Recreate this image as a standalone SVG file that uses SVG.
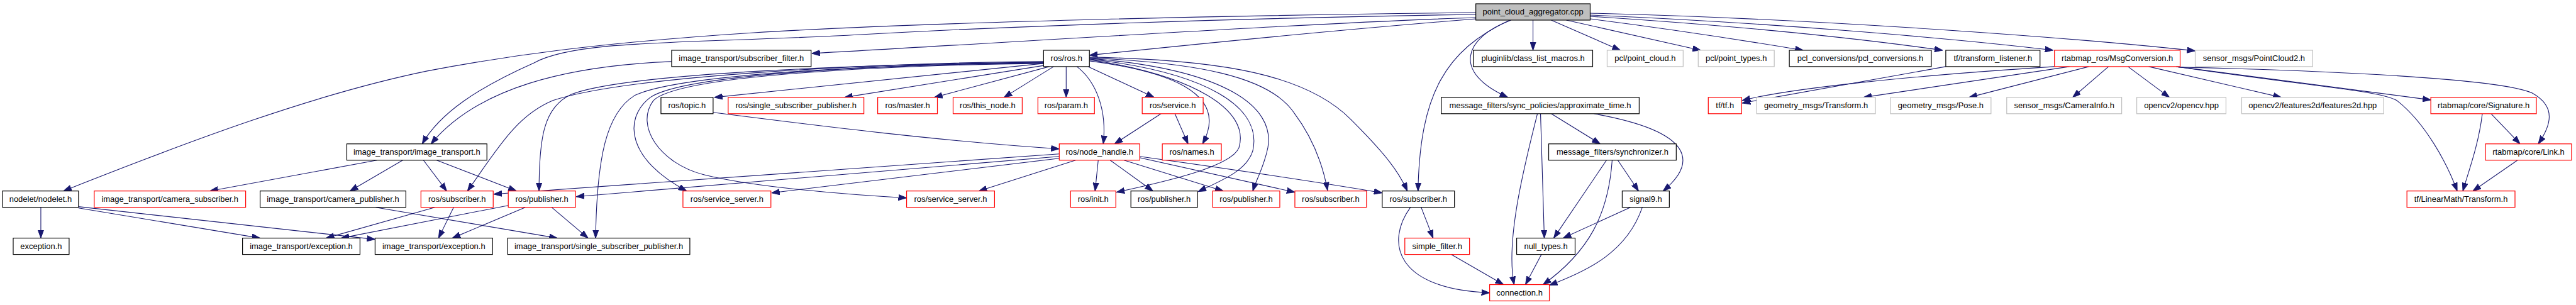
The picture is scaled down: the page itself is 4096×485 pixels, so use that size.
<svg xmlns="http://www.w3.org/2000/svg" width="4096" height="485" viewBox="0 0 4096 485">
<defs>
<marker id="ah" markerUnits="userSpaceOnUse" markerWidth="13" markerHeight="10" viewBox="0 0 13 10" refX="13" refY="5" orient="auto">
<path d="M0,0.4 L13,5 L0,9.6 z" fill="#191970" stroke="#191970" stroke-width="1"/>
</marker>
<style>
.e path{fill:none;stroke:#191970;stroke-width:1.1;marker-end:url(#ah)}
.n rect{fill:#fff;stroke:#000;stroke-width:1.2}
.n.r rect{stroke:#ff0000}
.n.g rect{stroke:#bfbfbf}
.n.root rect{fill:#bfbfbf}
.n text{font-family:"Liberation Sans",Arial,sans-serif;font-size:13px;fill:#000;text-anchor:middle}
</style>
</defs>
<rect width="4096" height="485" fill="#fff"/>
<g transform="scale(0.999)">
<g id="edges" class="e">
<path d="M2349,20 C2000,24 1500,34 1200,52 C950,68 800,90 680,113 C500,150 300,225 101,304"/>
<path d="M2349,23 C2000,28 1600,42 1370,55 C1100,70 920,62 850,100 C760,140 700,180 672,229"/>
<path d="M2349,28 C2100,36 1700,62 1292,85"/>
<path d="M2349,30 C2200,42 2000,60 1734,88"/>
<path d="M2440,32 L2440,80"/>
<path d="M2469,32 L2579,80"/>
<path d="M2493,32 L2707,80"/>
<path d="M2531,30 C2650,45 2780,65 2870,80"/>
<path d="M2531,26 C2750,40 2950,60 3092,80"/>
<path d="M2531,24 C2800,35 3100,60 3268,80"/>
<path d="M2531,21 C2900,30 3300,60 3494,81"/>
<path d="M2405,32 C2330,60 2310,115 2400,155"/>
<path d="M2403,32 C2300,80 2260,150 2257,304"/>
<path d="M1069,98 C900,105 760,140 686,229"/>
<path d="M1661,101 L1137,155"/>
<path d="M1663,104 L1344,155"/>
<path d="M1670,106 L1487,155"/>
<path d="M1677,106 L1598,155"/>
<path d="M1697,106 L1697,155"/>
<path d="M1714,106 C1745,130 1762,175 1756,229"/>
<path d="M1732,106 L1837,155"/>
<path d="M1734,97 C1850,112 1960,145 1914,229"/>
<path d="M1734,95 C1900,120 1990,175 1972,235 C1960,265 1860,288 1777,306"/>
<path d="M1734,94 C1920,115 2010,170 1994,240 C1985,270 1950,285 1907,305"/>
<path d="M1734,93 C1950,110 2030,170 2018,235 C2012,265 2000,285 1994,304"/>
<path d="M1734,92 C1900,100 2020,120 2060,180 C2090,220 2105,260 2113,303"/>
<path d="M1734,91 C1950,95 2080,120 2150,190 C2200,240 2225,270 2240,304"/>
<path d="M1661,98 C1400,100 1000,120 880,160 C820,185 790,240 744,304"/>
<path d="M1661,99 C1400,102 1000,115 910,150 C865,170 858,220 858,304"/>
<path d="M1661,100 C1400,102 1080,118 1010,152 C965,180 950,250 948,379"/>
<path d="M1661,100 C1400,103 1090,118 1035,155 C990,190 1000,255 1093,304"/>
<path d="M1661,101 C1400,104 1080,120 1040,160 C1010,200 1050,260 1120,278 C1200,298 1350,310 1443,315"/>
<path d="M1686,245 L786,309"/>
<path d="M1686,249 L917,313"/>
<path d="M1686,252 L1228,307"/>
<path d="M1712,255 L1558,304"/>
<path d="M1748,255 L1743,304"/>
<path d="M1767,255 L1835,304"/>
<path d="M1789,255 L1947,304"/>
<path d="M1814,251 L2061,306"/>
<path d="M1814,249 C1950,268 2100,290 2200,307"/>
<path d="M1135,179 C1300,200 1500,225 1686,237"/>
<path d="M1848,181 L1774,229"/>
<path d="M1870,181 L1891,229"/>
<path d="M600,255 L334,304"/>
<path d="M641,255 L557,304"/>
<path d="M674,255 L711,304"/>
<path d="M695,255 L822,304"/>
<path d="M65,330 L65,379"/>
<path d="M125,331 L414,379"/>
<path d="M125,329 L597,381"/>
<path d="M598,330 L887,379"/>
<path d="M692,330 L519,379"/>
<path d="M722,330 L698,379"/>
<path d="M809,327 L543,379"/>
<path d="M836,330 L720,379"/>
<path d="M878,330 L936,379"/>
<path d="M2262,330 L2281,379"/>
<path d="M2245,330 C2205,385 2220,460 2371,466"/>
<path d="M2308,404 L2393,453"/>
<path d="M2454,404 L2428,453"/>
<path d="M2469,181 L2547,229"/>
<path d="M2452,181 L2458,379"/>
<path d="M2447,181 C2430,250 2395,380 2410,453"/>
<path d="M2537,181 C2700,210 2700,260 2647,304"/>
<path d="M2557,255 L2473,379"/>
<path d="M2566,255 C2560,340 2530,400 2456,453"/>
<path d="M2575,255 L2608,304"/>
<path d="M2595,330 L2488,379"/>
<path d="M2614,330 C2590,400 2530,430 2466,454"/>
<path d="M3097,106 L2773,164"/>
<path d="M3270,106 C3050,120 2850,140 2773,160"/>
<path d="M3294,106 L2966,155"/>
<path d="M3325,106 L3134,155"/>
<path d="M3356,106 L3299,155"/>
<path d="M3387,106 L3453,155"/>
<path d="M3420,106 L3631,155"/>
<path d="M3464,106 L3869,159"/>
<path d="M3464,106 C3700,140 3790,145 3815,160 C3860,195 3895,260 3911,304"/>
<path d="M3467,107 C3700,112 3980,125 4030,148 C4070,170 4060,200 4040,229"/>
<path d="M3951,181 C3945,230 3930,270 3920,304"/>
<path d="M3965,181 L4011,229"/>
<path d="M4007,255 L3936,304"/>
</g>
<g id="pca" class="n root"><rect x="2349" y="6" width="182" height="26"/><text x="2440" y="23.5">point_cloud_aggregator.cpp</text></g>
<g id="sf" class="n"><rect x="1069" y="80" width="222" height="26"/><text x="1180" y="97.5">image_transport/subscriber_filter.h</text></g>
<g id="ros" class="n"><rect x="1661" y="80" width="73" height="26"/><text x="1697.5" y="97.5">ros/ros.h</text></g>
<g id="plg" class="n"><rect x="2345" y="80" width="190" height="26"/><text x="2440" y="97.5">pluginlib/class_list_macros.h</text></g>
<g id="pcd" class="n g"><rect x="2558" y="80" width="121" height="26"/><text x="2618.5" y="97.5">pcl/point_cloud.h</text></g>
<g id="pty" class="n g"><rect x="2703" y="80" width="121" height="26"/><text x="2763.5" y="97.5">pcl/point_types.h</text></g>
<g id="pclc" class="n"><rect x="2848" y="80" width="226" height="26"/><text x="2961" y="97.5">pcl_conversions/pcl_conversions.h</text></g>
<g id="tfl" class="n"><rect x="3097" y="80" width="150" height="26"/><text x="3172" y="97.5">tf/transform_listener.h</text></g>
<g id="msg" class="n r"><rect x="3270" y="80" width="200" height="26"/><text x="3370" y="97.5">rtabmap_ros/MsgConversion.h</text></g>
<g id="pc2" class="n g"><rect x="3494" y="80" width="187" height="26"/><text x="3587.5" y="97.5">sensor_msgs/PointCloud2.h</text></g>
<g id="topic" class="n"><rect x="1052" y="155" width="83" height="26"/><text x="1093.5" y="172.5">ros/topic.h</text></g>
<g id="ssp" class="n r"><rect x="1159" y="155" width="216" height="26"/><text x="1267" y="172.5">ros/single_subscriber_publisher.h</text></g>
<g id="master" class="n r"><rect x="1397" y="155" width="95" height="26"/><text x="1444.5" y="172.5">ros/master.h</text></g>
<g id="thisnode" class="n r"><rect x="1517" y="155" width="110" height="26"/><text x="1572" y="172.5">ros/this_node.h</text></g>
<g id="param" class="n r"><rect x="1652" y="155" width="90" height="26"/><text x="1697" y="172.5">ros/param.h</text></g>
<g id="service" class="n r"><rect x="1818" y="155" width="97" height="26"/><text x="1866.5" y="172.5">ros/service.h</text></g>
<g id="approx" class="n"><rect x="2294" y="155" width="315" height="26"/><text x="2451.5" y="172.5">message_filters/sync_policies/approximate_time.h</text></g>
<g id="tf" class="n r"><rect x="2719" y="155" width="53" height="26"/><text x="2745.5" y="172.5">tf/tf.h</text></g>
<g id="gtr" class="n g"><rect x="2796" y="155" width="189" height="26"/><text x="2890.5" y="172.5">geometry_msgs/Transform.h</text></g>
<g id="gpose" class="n g"><rect x="3009" y="155" width="160" height="26"/><text x="3089" y="172.5">geometry_msgs/Pose.h</text></g>
<g id="caminfo" class="n g"><rect x="3194" y="155" width="183" height="26"/><text x="3285.5" y="172.5">sensor_msgs/CameraInfo.h</text></g>
<g id="ocv" class="n g"><rect x="3401" y="155" width="142" height="26"/><text x="3472" y="172.5">opencv2/opencv.hpp</text></g>
<g id="f2d" class="n g"><rect x="3568" y="155" width="226" height="26"/><text x="3681" y="172.5">opencv2/features2d/features2d.hpp</text></g>
<g id="sig" class="n r"><rect x="3869" y="155" width="168" height="26"/><text x="3953" y="172.5">rtabmap/core/Signature.h</text></g>
<g id="itr" class="n"><rect x="552" y="229" width="223" height="26"/><text x="663.5" y="246.5">image_transport/image_transport.h</text></g>
<g id="nh" class="n r"><rect x="1686" y="229" width="128" height="26"/><text x="1750" y="246.5">ros/node_handle.h</text></g>
<g id="names" class="n r"><rect x="1850" y="229" width="94" height="26"/><text x="1897" y="246.5">ros/names.h</text></g>
<g id="sync" class="n"><rect x="2465" y="229" width="203" height="26"/><text x="2566.5" y="246.5">message_filters/synchronizer.h</text></g>
<g id="link" class="n r"><rect x="3956" y="229" width="137" height="26"/><text x="4024.5" y="246.5">rtabmap/core/Link.h</text></g>
<g id="nodelet" class="n"><rect x="4" y="304" width="121" height="26"/><text x="64.5" y="321.5">nodelet/nodelet.h</text></g>
<g id="camsub" class="n r"><rect x="150" y="304" width="241" height="26"/><text x="270.5" y="321.5">image_transport/camera_subscriber.h</text></g>
<g id="campub" class="n"><rect x="414" y="304" width="232" height="26"/><text x="530" y="321.5">image_transport/camera_publisher.h</text></g>
<g id="sub1" class="n r"><rect x="670" y="304" width="115" height="26"/><text x="727.5" y="321.5">ros/subscriber.h</text></g>
<g id="pub1" class="n r"><rect x="809" y="304" width="107" height="26"/><text x="862.5" y="321.5">ros/publisher.h</text></g>
<g id="ss1" class="n r"><rect x="1087" y="304" width="140" height="26"/><text x="1157" y="321.5">ros/service_server.h</text></g>
<g id="ss2" class="n r"><rect x="1443" y="304" width="140" height="26"/><text x="1513" y="321.5">ros/service_server.h</text></g>
<g id="init" class="n r"><rect x="1704" y="304" width="72" height="26"/><text x="1740" y="321.5">ros/init.h</text></g>
<g id="pubb" class="n"><rect x="1800" y="304" width="106" height="26"/><text x="1853" y="321.5">ros/publisher.h</text></g>
<g id="pub2" class="n r"><rect x="1930" y="304" width="107" height="26"/><text x="1983.5" y="321.5">ros/publisher.h</text></g>
<g id="sub2" class="n r"><rect x="2061" y="304" width="114" height="26"/><text x="2118" y="321.5">ros/subscriber.h</text></g>
<g id="subb" class="n"><rect x="2200" y="304" width="115" height="26"/><text x="2257.5" y="321.5">ros/subscriber.h</text></g>
<g id="sig9" class="n"><rect x="2582" y="304" width="75" height="26"/><text x="2619.5" y="321.5">signal9.h</text></g>
<g id="lmt" class="n r"><rect x="3831" y="304" width="172" height="26"/><text x="3917" y="321.5">tf/LinearMath/Transform.h</text></g>
<g id="exc" class="n"><rect x="21" y="379" width="89" height="26"/><text x="65.5" y="396.5">exception.h</text></g>
<g id="itexc1" class="n"><rect x="386" y="379" width="187" height="26"/><text x="479.5" y="396.5">image_transport/exception.h</text></g>
<g id="itexc2" class="n"><rect x="597" y="379" width="187" height="26"/><text x="690.5" y="396.5">image_transport/exception.h</text></g>
<g id="issp" class="n"><rect x="808" y="379" width="290" height="26"/><text x="953" y="396.5">image_transport/single_subscriber_publisher.h</text></g>
<g id="sfilt" class="n r"><rect x="2236" y="379" width="103" height="26"/><text x="2287.5" y="396.5">simple_filter.h</text></g>
<g id="nullt" class="n"><rect x="2414" y="379" width="93" height="26"/><text x="2460.5" y="396.5">null_types.h</text></g>
<g id="conn" class="n r"><rect x="2371" y="453" width="95" height="26"/><text x="2418.5" y="470.5">connection.h</text></g>
</g>
</svg>
